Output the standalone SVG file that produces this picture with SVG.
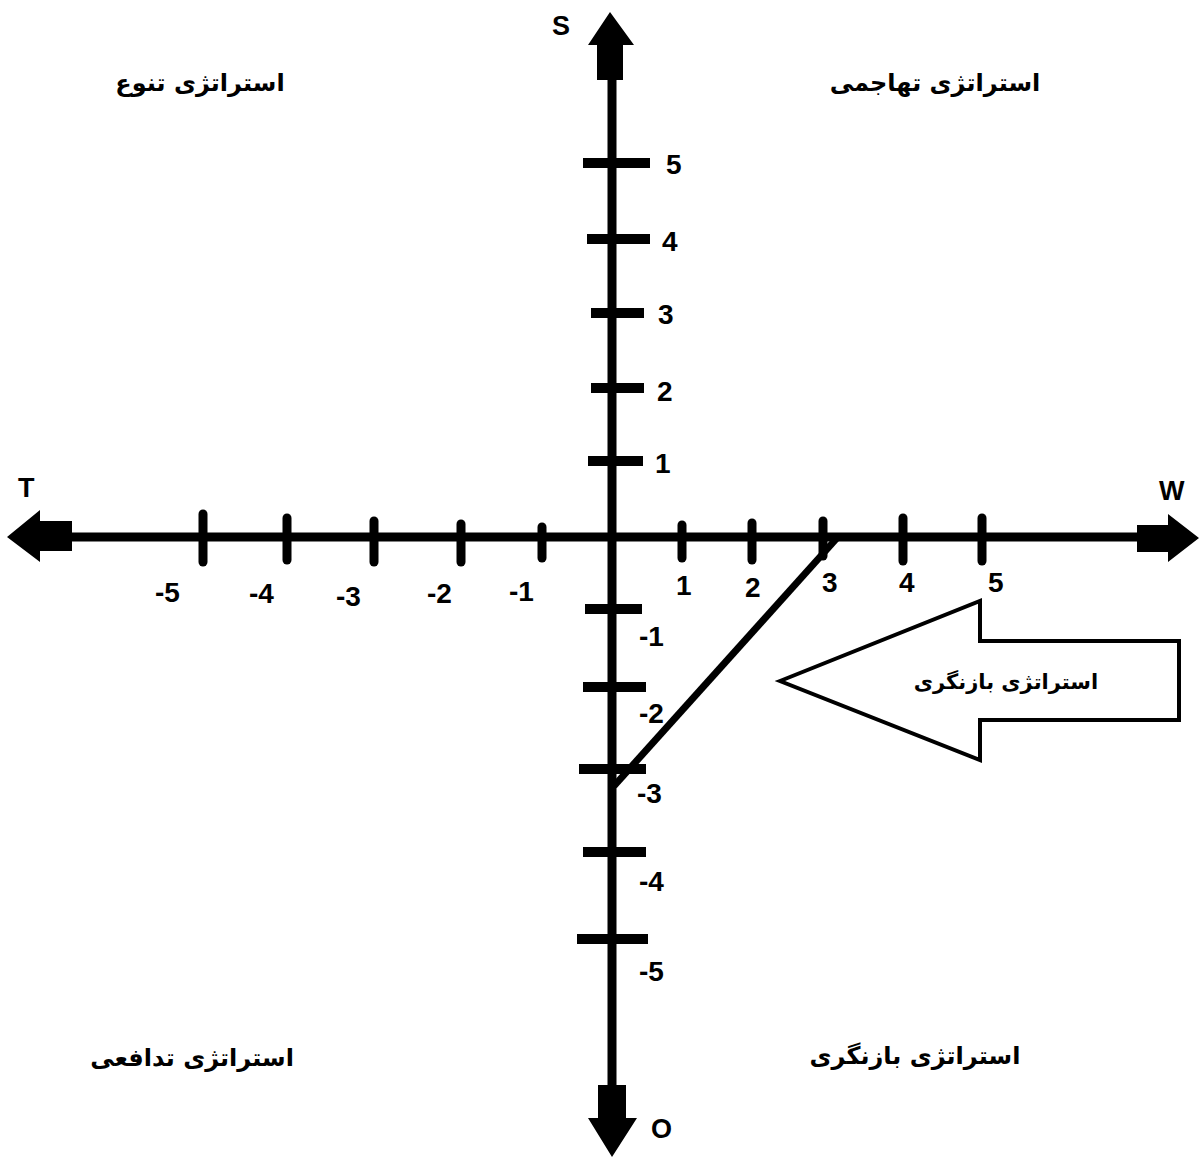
<svg xmlns="http://www.w3.org/2000/svg" width="1199" height="1157" viewBox="0 0 1199 1157">
<style>
.ax{stroke:#000;stroke-width:9;fill:none}
.tk{stroke:#000;stroke-width:9;stroke-linecap:round;fill:none}
.tkv{stroke:#000;stroke-width:10;stroke-linecap:butt;fill:none}
.num{font-family:"Liberation Sans",Arial,sans-serif;font-weight:bold;font-size:28px;fill:#000}
.axl{font-family:"Liberation Sans",Arial,sans-serif;font-weight:bold;font-size:27px;fill:#000}
.fa{font-family:"DejaVu Sans",sans-serif;font-weight:bold;font-size:24px;fill:#000}
.head{fill:#000}
</style>
<rect width="1199" height="1157" fill="#fff"/>
<g id="connectors">
<line class="ax" x1="612" y1="60" x2="612" y2="1120"/>
<line class="ax" x1="50" y1="537" x2="1160" y2="537"/>
<line x1="837" y1="538" x2="614" y2="786" stroke="#000" stroke-width="7"/>
</g>
<g id="arrow-top"><polygon class="head" points="610,12 634,45 623,45 623,80 597,80 597,45 588,45"/></g>
<g id="arrow-left"><polygon class="head" points="7,537 40,510 40,521 72,521 72,551 40,551 40,562"/></g>
<g id="arrow-right"><polygon class="head" points="1199,538 1168,514 1168,525 1137,525 1137,552 1168,552 1168,562"/></g>
<g id="arrow-bottom"><polygon class="head" points="612,1157 637,1118 626,1118 626,1085 598,1085 598,1118 588,1118"/></g>
<g id="ticks-y">
<line class="tkv" x1="583" y1="163" x2="650" y2="163"/>
<line class="tkv" x1="587" y1="239" x2="650" y2="239"/>
<line class="tkv" x1="591" y1="313" x2="644" y2="313"/>
<line class="tkv" x1="591" y1="388" x2="644" y2="388"/>
<line class="tkv" x1="588" y1="461" x2="643" y2="461"/>
<line class="tkv" x1="585" y1="609" x2="642" y2="609"/>
<line class="tkv" x1="583" y1="687" x2="646" y2="687"/>
<line class="tkv" x1="579" y1="769" x2="646" y2="769"/>
<line class="tkv" x1="583" y1="852" x2="646" y2="852"/>
<line class="tkv" x1="577" y1="939" x2="648" y2="939"/>
</g>
<g id="ticks-x">
<line class="tk" x1="203" y1="514" x2="203" y2="562"/>
<line class="tk" x1="287" y1="518" x2="287" y2="560"/>
<line class="tk" x1="374" y1="521" x2="374" y2="562"/>
<line class="tk" x1="461" y1="524" x2="461" y2="562"/>
<line class="tk" x1="542" y1="527" x2="542" y2="558"/>
<line class="tk" x1="682" y1="525" x2="682" y2="558"/>
<line class="tk" x1="752" y1="523" x2="752" y2="560"/>
<line class="tk" x1="823" y1="521" x2="823" y2="556"/>
<line class="tk" x1="903" y1="518" x2="903" y2="561"/>
<line class="tk" x1="982" y1="518" x2="982" y2="561"/>
</g>
<g id="labels-y">
<text class="num" x="666" y="174">5</text>
<text class="num" x="662" y="251">4</text>
<text class="num" x="658" y="324">3</text>
<text class="num" x="657" y="401">2</text>
<text class="num" x="655" y="473">1</text>
<text class="num" x="639" y="646">-1</text>
<text class="num" x="639" y="723">-2</text>
<text class="num" x="637" y="803">-3</text>
<text class="num" x="639" y="891">-4</text>
<text class="num" x="639" y="981">-5</text>
</g>
<g id="labels-x">
<text class="num" x="155" y="602">-5</text>
<text class="num" x="249" y="603">-4</text>
<text class="num" x="336" y="606">-3</text>
<text class="num" x="427" y="603">-2</text>
<text class="num" x="509" y="601">-1</text>
<text class="num" x="676" y="595">1</text>
<text class="num" x="745" y="597">2</text>
<text class="num" x="822" y="592">3</text>
<text class="num" x="899" y="592">4</text>
<text class="num" x="988" y="592">5</text>
</g>
<g id="axis-labels">
<text class="axl" x="552" y="35">S</text>
<text class="axl" x="18" y="497">T</text>
<text class="axl" x="1159" y="500">W</text>
<text class="axl" x="651" y="1138">O</text>
</g>
<g id="q-top-left"><text class="fa" x="200" y="91" text-anchor="middle" direction="rtl">استراتژی تنوع</text></g>
<g id="q-top-right"><text class="fa" x="935" y="91" text-anchor="middle" direction="rtl">استراتژی تهاجمی</text></g>
<g id="q-bottom-left"><text class="fa" x="192" y="1066" text-anchor="middle" direction="rtl">استراتژی تدافعی</text></g>
<g id="q-bottom-right"><text class="fa" x="915" y="1064" text-anchor="middle" direction="rtl">استراتژی بازنگری</text></g>
<g id="big-arrow">
<polygon points="780,681 980,601 980,641 1179,641 1179,720 980,720 980,760" fill="#fff" stroke="#000" stroke-width="4" stroke-linejoin="miter"/>
<text x="1006" y="689" font-family="DejaVu Sans, sans-serif" font-weight="bold" font-size="21" text-anchor="middle" direction="rtl">استراتژی بازنگری</text>
</g>
</svg>
